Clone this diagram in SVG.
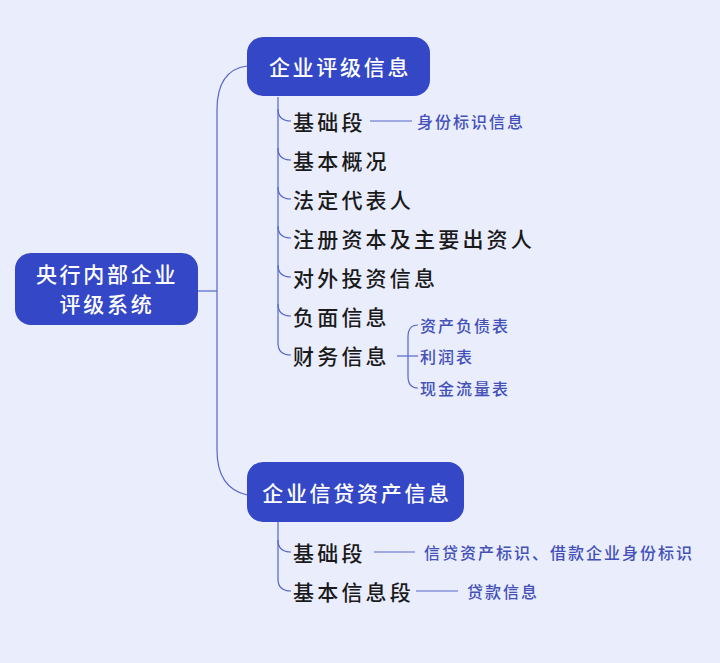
<svg xmlns="http://www.w3.org/2000/svg" width="720" height="663" viewBox="0 0 720 663">
<style>
.bg{fill:#E9EDFC}
.node{fill:#3447C6}
.nt{fill:#FFFFFF;font-family:"Noto Sans CJK SC","Noto Sans",sans-serif;font-size:21px;font-weight:500;letter-spacing:2.7px;dominant-baseline:central}
.ct{fill:#1A1A1A;font-family:"Noto Sans CJK SC","Noto Sans",sans-serif;font-size:21px;font-weight:500;letter-spacing:3.2px;dominant-baseline:central}
.st{fill:#4450B8;font-family:"Noto Sans CJK SC","Noto Sans",sans-serif;font-size:16px;font-weight:500;letter-spacing:2px;dominant-baseline:central}
.ln{fill:none;stroke:#5766C9;stroke-width:1.2}
</style>
<rect class="bg" x="0" y="0" width="720" height="663"/>
<g id="connectors">
<path class="ln" d="M198,291 H217"/>
<path class="ln" d="M247,66 Q217,70 217,110 V450 Q217,488 247,495"/>
<path class="ln" d="M278,97 V343 Q278,355 291,355"/>
<path class="ln" d="M278,109 Q278,121 291,121"/>
<path class="ln" d="M278,148 Q278,160 291,160"/>
<path class="ln" d="M278,187 Q278,199 291,199"/>
<path class="ln" d="M278,226 Q278,238 291,238"/>
<path class="ln" d="M278,265 Q278,277 291,277"/>
<path class="ln" d="M278,304 Q278,316 291,316"/>
<path class="ln" d="M370,121 H412"/>
<path class="ln" d="M397,356 H418"/>
<path class="ln" d="M418,325 Q408,325 408,337 V376 Q408,388 418,388"/>
<path class="ln" d="M278,522 V579 Q278,591 291,591"/>
<path class="ln" d="M278,540 Q278,552 291,552"/>
<path class="ln" d="M374,552 H415"/>
<path class="ln" d="M416,591 H458"/>
</g>
<g id="root">
<rect class="node" x="15" y="253" width="183" height="72" rx="16"/>
<text class="nt" x="107" y="273" text-anchor="middle">央行内部企业</text>
<text class="nt" x="107" y="303" text-anchor="middle">评级系统</text>
</g>
<g id="n1">
<rect class="node" x="247" y="37" width="183" height="59" rx="16"/>
<text class="nt" x="340" y="66" text-anchor="middle">企业评级信息</text>
</g>
<g id="n1c1"><text class="ct" x="293" y="121">基础段</text></g>
<g id="n1c1s"><text class="st" x="417" y="121">身份标识信息</text></g>
<g id="n1c2"><text class="ct" x="293" y="160">基本概况</text></g>
<g id="n1c3"><text class="ct" x="293" y="199">法定代表人</text></g>
<g id="n1c4"><text class="ct" x="293" y="238">注册资本及主要出资人</text></g>
<g id="n1c5"><text class="ct" x="293" y="277">对外投资信息</text></g>
<g id="n1c6"><text class="ct" x="293" y="316">负面信息</text></g>
<g id="n1c7"><text class="ct" x="293" y="355">财务信息</text></g>
<g id="n1c7a"><text class="st" x="420" y="325">资产负债表</text></g>
<g id="n1c7b"><text class="st" x="420" y="356">利润表</text></g>
<g id="n1c7c"><text class="st" x="420" y="388">现金流量表</text></g>
<g id="n2">
<rect class="node" x="247" y="462" width="217" height="60" rx="16"/>
<text class="nt" x="357" y="492" text-anchor="middle">企业信贷资产信息</text>
</g>
<g id="n2c1"><text class="ct" x="293" y="552">基础段</text></g>
<g id="n2c1s"><text class="st" x="424" y="552">信贷资产标识、借款企业身份标识</text></g>
<g id="n2c2"><text class="ct" x="293" y="591">基本信息段</text></g>
<g id="n2c2s"><text class="st" x="467" y="591">贷款信息</text></g>
</svg>
